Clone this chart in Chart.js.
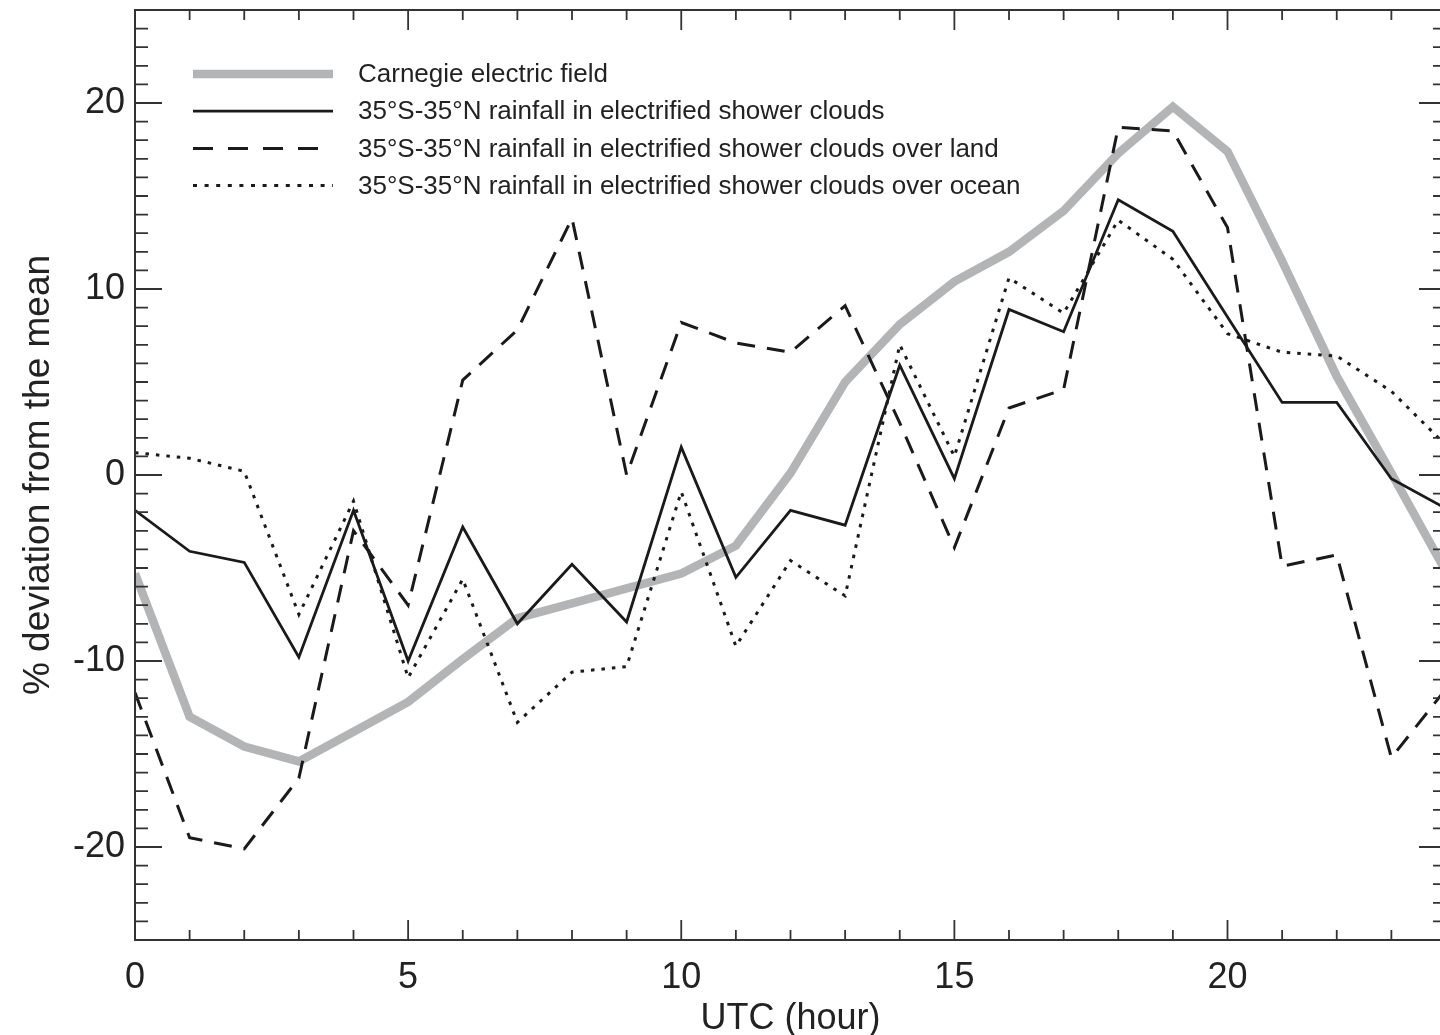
<!DOCTYPE html>
<html>
<head>
<meta charset="utf-8">
<title>Carnegie x chuva eletrificada</title>
<script src="https://cdn.jsdelivr.net/npm/chart.js@4.4.1/dist/chart.umd.min.js"></script>
<style>
  html, body { margin: 0; padding: 0; background: #fff; overflow: hidden; }
  canvas { display: block; }
</style>
</head>
<body>
<canvas id="grafico" width="1460" height="1035"></canvas>
<script>
// Valores (% de desvio da média por hora UTC)
const horas = [0, 1, 2, 3, 4, 5, 6, 7, 8, 9, 10, 11, 12, 13, 14, 15, 16, 17, 18, 19, 20, 21, 22, 23, 24];
const campoCarnegie = [-5.3, -13.0, -14.6, -15.4, -13.8, -12.2, -9.9, -7.7, -6.9, -6.1, -5.3, -3.8, 0.1, 5.0, 8.1, 10.4, 12.0, 14.2, 17.3, 19.8, 17.4, 11.5, 5.3, 0.1, -5.2];
const chuvaTotal = [-1.9, -4.1, -4.7, -9.8, -1.9, -10.0, -2.8, -8.0, -4.8, -7.9, 1.5, -5.5, -1.9, -2.7, 5.9, -0.2, 8.9, 7.7, 14.8, 13.1, 8.5, 3.9, 3.9, -0.2, -1.8];
const chuvaTerra = [-11.7, -19.5, -20.1, -16.3, -3.0, -7.0, 5.1, 7.8, 13.8, 0.0, 8.2, 7.1, 6.6, 9.1, 2.8, -3.9, 3.6, 4.6, 18.7, 18.5, 13.3, -4.9, -4.3, -15.2, -11.5];
const chuvaOceano = [1.2, 0.9, 0.2, -7.5, -1.4, -10.9, -5.6, -13.3, -10.6, -10.3, -0.9, -9.2, -4.6, -6.5, 7.0, 1.0, 10.6, 8.7, 13.7, 11.6, 7.6, 6.6, 6.4, 4.5, 1.6];

const rotulos = [
  'Carnegie electric field',
  '35°S-35°N rainfall in electrified shower clouds',
  '35°S-35°N rainfall in electrified shower clouds over land',
  '35°S-35°N rainfall in electrified shower clouds over ocean'
];
const ticksX = [0, 5, 10, 15, 20];
const ticksY = [-20, -10, 0, 10, 20];

const fonte = '"Liberation Sans", Arial, Helvetica, sans-serif';
const corTexto = '#222';

function pontos(serie) {
  return horas.map((h, i) => ({ x: h, y: serie[i] }));
}

// Moldura com ticks para dentro nos quatro lados
const moldura = {
  id: 'moldura',
  afterDraw(chart) {
    const { ctx, chartArea: a, scales: { x, y } } = chart;
    ctx.save();
    ctx.strokeStyle = '#333';
    ctx.lineWidth = 2;
    ctx.strokeRect(a.left, a.top, a.right - a.left, a.bottom - a.top);
    ctx.lineWidth = 1.8;
    ctx.beginPath();
    for (let h = x.min; h <= x.max; h++) {
      const px = x.getPixelForValue(h);
      const len = h % 5 === 0 ? 20 : 10;
      ctx.moveTo(px, a.bottom); ctx.lineTo(px, a.bottom - len);
      ctx.moveTo(px, a.top); ctx.lineTo(px, a.top + len);
    }
    for (let v = y.min; v <= y.max; v++) {
      const py = y.getPixelForValue(v);
      const len = v % 10 === 0 ? 27 : 13;
      ctx.moveTo(a.left, py); ctx.lineTo(a.left + len, py);
      ctx.moveTo(a.right, py); ctx.lineTo(a.right - len, py);
    }
    ctx.stroke();
    ctx.restore();
  }
};

// Legenda desenhada à mão (amostras de linha longas)
const legenda = {
  id: 'legenda',
  afterDatasetsDraw(chart) {
    const ctx = chart.ctx;
    ctx.save();
    chart.data.datasets.forEach((ds, i) => {
      const yy = 74 + i * 37.2;
      ctx.beginPath();
      ctx.strokeStyle = ds.borderColor;
      ctx.lineWidth = ds.borderWidth;
      ctx.setLineDash(ds.legendaDash || ds.borderDash || []);
      ctx.moveTo(193, yy);
      ctx.lineTo(333, yy);
      ctx.stroke();
      ctx.setLineDash([]);
      ctx.fillStyle = corTexto;
      ctx.font = '26px ' + fonte;
      ctx.textBaseline = 'middle';
      ctx.fillText(ds.label, 358, yy + 1);
    });
    ctx.restore();
  }
};

new Chart(document.getElementById('grafico'), {
  type: 'line',
  data: {
    datasets: [
      {
        label: rotulos[0],
        data: pontos(campoCarnegie),
        borderColor: '#b3b4b6',
        borderWidth: 8.5,
        order: 4
      },
      {
        label: rotulos[1],
        data: pontos(chuvaTotal),
        borderColor: '#1a1a1a',
        borderWidth: 2.8,
        order: 1
      },
      {
        label: rotulos[2],
        data: pontos(chuvaTerra),
        borderColor: '#1a1a1a',
        borderWidth: 3,
        borderDash: [18, 12],
        legendaDash: [20, 15],
        order: 2
      },
      {
        label: rotulos[3],
        data: pontos(chuvaOceano),
        borderColor: '#1a1a1a',
        borderWidth: 3,
        borderDash: [3.5, 7],
        legendaDash: [4, 7.6],
        order: 3
      }
    ]
  },
  options: {
    responsive: false,
    animation: false,
    elements: {
      point: { radius: 0 },
      line: { tension: 0, borderCapStyle: 'butt', borderJoinStyle: 'miter', fill: false }
    },
    layout: { padding: { top: 10, right: 14, left: 0, bottom: 0 } },
    plugins: { legend: { display: false }, tooltip: { enabled: false } },
    scales: {
      x: {
        type: 'linear',
        min: 0,
        max: 24,
        grid: { display: false, drawTicks: false },
        border: { display: false },
        ticks: {
          stepSize: 5,
          padding: 16,
          maxRotation: 0,
          color: corTexto,
          font: { size: 36, family: fonte },
          callback: v => ticksX.includes(v) ? v : ''
        },
        title: {
          display: true,
          text: 'UTC (hour)',
          color: corTexto,
          font: { size: 36, family: fonte },
          padding: { top: 0, bottom: -6 }
        },
        afterFit: s => { s.height = 95; s.paddingLeft = 0; s.paddingRight = 0; }
      },
      y: {
        min: -25,
        max: 25,
        grid: { display: false, drawTicks: false },
        border: { display: false },
        ticks: {
          stepSize: 5,
          padding: 10,
          color: corTexto,
          font: { size: 36, family: fonte },
          callback: v => ticksY.includes(v) ? v : ''
        },
        title: {
          display: true,
          text: '% deviation from the mean',
          color: corTexto,
          font: { size: 37, family: fonte },
          padding: { top: 17, bottom: 0 }
        },
        afterFit: s => { s.width = 135; s.paddingTop = 0; s.paddingBottom = 0; }
      }
    }
  },
  plugins: [moldura, legenda]
});
</script>
</body>
</html>
